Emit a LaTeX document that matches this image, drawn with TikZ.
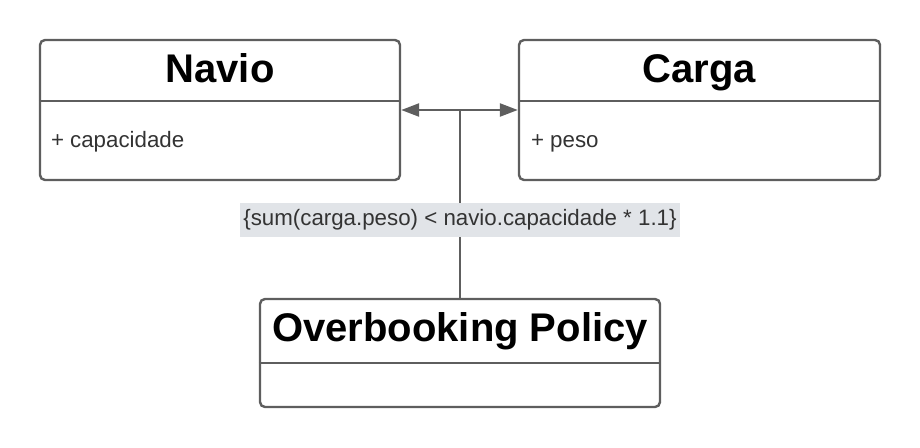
\documentclass[tikz,border=0pt]{standalone}
\usepackage{fontspec}
\setmainfont{Liberation Sans}
\usepackage{xcolor}
\usetikzlibrary{arrows.meta,positioning,calc}
\definecolor{edgegray}{HTML}{5E5E5E}
\definecolor{textgray}{HTML}{333333}
\definecolor{labelgray}{HTML}{E1E4E8}

\begin{document}
\begin{tikzpicture}[
    x=1pt, y=-1pt,
    classbox/.style={draw=edgegray, line width=2.4pt, rounded corners=5pt, fill=white, inner sep=0pt},
    title/.style={font=\fontsize{40}{44}\selectfont\bfseries, text=black, inner sep=0pt, anchor=base},
    attr/.style={font=\fontsize{22.3}{26}\selectfont, text=textgray, inner sep=0pt, anchor=base west},
    divider/.style={draw=edgegray, line width=2.4pt},
    assoc/.style={draw=edgegray, line width=2.4pt},
    arrow/.style={{Triangle[length=18pt, width=13pt]}-{Triangle[length=18pt, width=13pt]}, assoc},
    constraint/.style={fill=labelgray, font=\fontsize{22.3}{26}\selectfont, text=textgray, inner xsep=3pt, inner ysep=0pt, minimum height=34pt}
  ]
  \useasboundingbox (0,0) rectangle (920,447);

  % classes
  \node[classbox, minimum width=360pt, minimum height=140pt] (navio) at (220,110) {};
  \node[classbox, minimum width=361pt, minimum height=140pt] (carga) at (699.5,110) {};
  \node[classbox, minimum width=400pt, minimum height=108pt] (policy) at (460,353) {};

  \draw[divider] ($(navio.north west)+(0,62)$) -- ($(navio.north east)+(0,62)$);
  \draw[divider] ($(carga.north west)+(0,62)$) -- ($(carga.north east)+(0,62)$);
  \draw[divider] ($(policy.north west)+(0,65)$) -- ($(policy.north east)+(0,65)$);

  \node[title] (navioT) at ($(navio.north)+(0,44)$) {Navio};
  \node[title] (cargaT) at ($(carga.north)+(0,44)$) {Carga};
  \node[title] (policyT) at ($(policy.north)+(0,44)$) {Overbooking Policy};

  \node[attr] (navioA) at ($(navio.west)+(12,37)$) {+ capacidade};
  \node[attr] (cargaA) at ($(carga.west)+(13,37)$) {+ peso};

  % association with constraint
  \coordinate (joint) at (460,110);
  \draw[arrow] (navio.east |- joint) -- (carga.west |- joint);
  \draw[assoc] (joint) -- (policy.north);
  \node[constraint] (rule) at (460,220) {\{sum(carga.peso) < navio.capacidade * 1.1\}};
\end{tikzpicture}
\end{document}
